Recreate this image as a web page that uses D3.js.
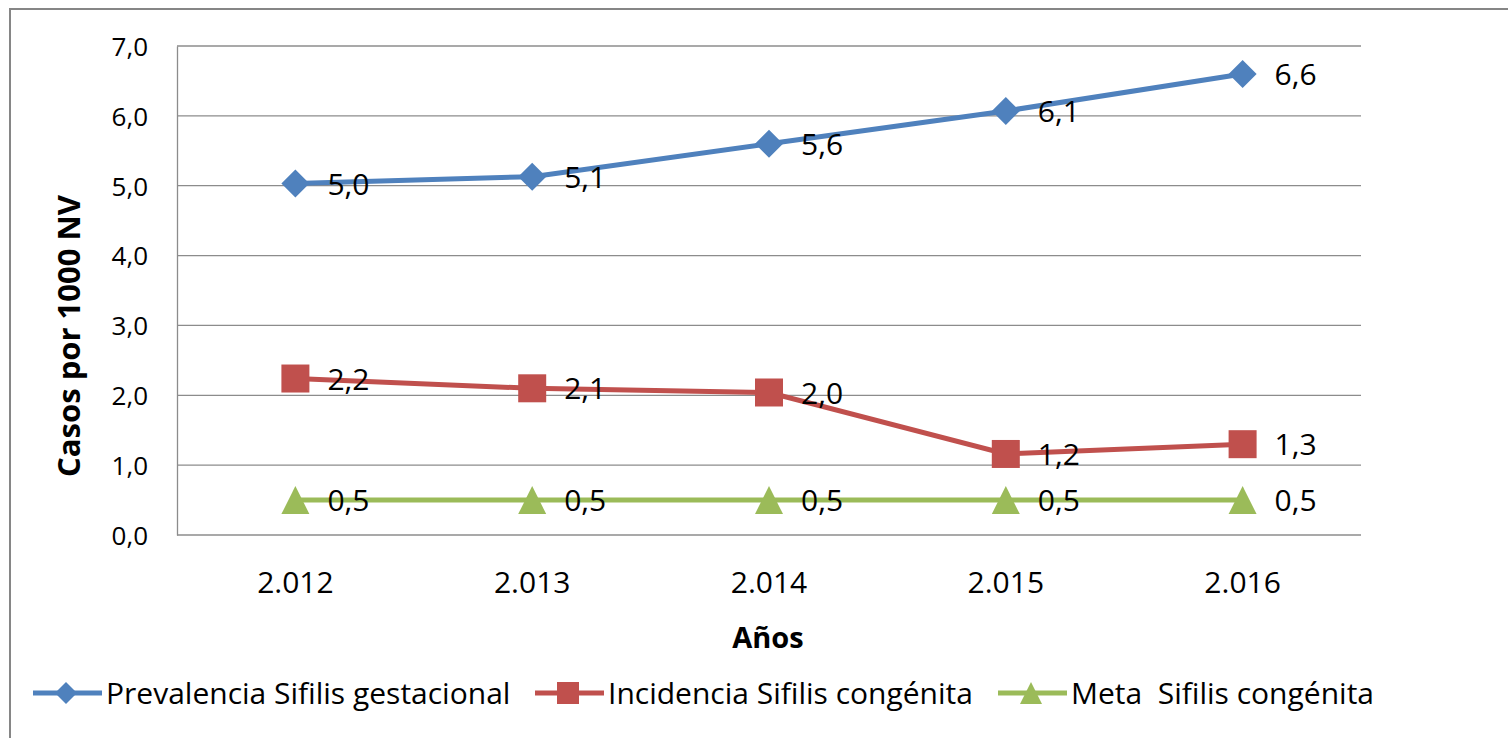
<!DOCTYPE html>
<html>
<head>
<meta charset="utf-8">
<script src="https://cdn.jsdelivr.net/npm/d3@7"></script>
<style>
  body { margin: 0; background: #fff; }
  text { font-family: "Open Sans", Lato, sans-serif; fill: #000; }
</style>
</head>
<body>
<div id="chart"></div>
<script>
var years = ["2.012", "2.013", "2.014", "2.015", "2.016"];
var prevalencia = [5.03, 5.13, 5.6, 6.07, 6.6];
var incidencia = [2.24, 2.1, 2.04, 1.16, 1.3];
var meta = [0.5, 0.5, 0.5, 0.5, 0.5];
var yTicks = [0, 1, 2, 3, 4, 5, 6, 7];

// marker shapes drawn as paths for a given half-size
var shapes = {
  diamond: function(r) { return "M0," + (-r) + "L" + r + ",0L0," + r + "L" + (-r) + ",0Z"; },
  square: function(r) { return "M" + (-r) + "," + (-r) + "h" + (2 * r) + "v" + (2 * r) + "h" + (-2 * r) + "Z"; },
  triangle: function(r) { return "M0," + (-r) + "L" + r + "," + r + "L" + (-r) + "," + r + "Z"; }
};

var series = [
  {name: "Prevalencia Sifilis gestacional", values: prevalencia, color: "#4F81BD", shape: "diamond"},
  {name: "Incidencia Sifilis congénita", values: incidencia, color: "#C0504D", shape: "square"},
  {name: "Meta  Sifilis congénita", values: meta, color: "#9BBB59", shape: "triangle"}
];

var width = 1508,
    height = 738,
    margin = {top: 46, right: 147, bottom: 203, left: 177};

var fmt = function(v) { return d3.format(".1f")(v).replace(".", ","); };

var svg = d3.select("#chart").append("svg")
    .attr("width", width)
    .attr("height", height);

// outer chart border
svg.append("rect")
    .attr("x", 10).attr("y", 9)
    .attr("width", width).attr("height", height)
    .attr("fill", "none")
    .attr("stroke", "#868686")
    .attr("stroke-width", 2);

var x = d3.scaleBand()
    .domain(years)
    .range([margin.left, width - margin.right]);

var y = d3.scaleLinear()
    .domain([0, 7])
    .range([height - margin.bottom, margin.top]);

// gridlines
svg.append("g")
    .selectAll("line")
    .data(yTicks)
  .enter().append("line")
    .attr("x1", margin.left)
    .attr("x2", width - margin.right)
    .attr("y1", function(d) { return y(d); })
    .attr("y2", function(d) { return y(d); })
    .attr("stroke", "#8c8c8c")
    .attr("stroke-width", 1.3);

// y axis
var yAxis = svg.append("g")
    .attr("transform", "translate(" + margin.left + ",0)")
    .call(d3.axisLeft(y).tickValues(yTicks).tickFormat(fmt).tickSize(0).tickPadding(29));
yAxis.select(".domain").attr("stroke", "#8c8c8c").attr("stroke-width", 1.3);
yAxis.selectAll("text").style("font-size", "26px").attr("dy", "0.36em");

// x axis
var xAxis = svg.append("g")
    .attr("transform", "translate(0," + (height - margin.bottom) + ")")
    .call(d3.axisBottom(x).tickSize(0));
xAxis.select(".domain").remove();
xAxis.selectAll("text").style("font-size", "30px").attr("y", 58).attr("dy", 0);

// axis titles
svg.append("text")
    .attr("transform", "translate(80,336) rotate(-90)")
    .attr("text-anchor", "middle")
    .style("font-size", "31px")
    .style("font-weight", "bold")
    .text("Casos por 1000 NV");

svg.append("text")
    .attr("x", (margin.left + width - margin.right) / 2 - 1)
    .attr("y", 648)
    .attr("text-anchor", "middle")
    .style("font-size", "29px")
    .style("font-weight", "bold")
    .text("Años");

var cx = function(i) { return x(years[i]) + x.bandwidth() / 2; };

var line = d3.line()
    .x(function(d, i) { return cx(i); })
    .y(function(d) { return y(d); });

var g = svg.selectAll(".series")
    .data(series)
  .enter().append("g")
    .attr("class", "series");

g.append("path")
    .attr("d", function(s) { return line(s.values); })
    .attr("fill", "none")
    .attr("stroke", function(s) { return s.color; })
    .attr("stroke-width", 5);

g.each(function(s) {
  var sel = d3.select(this);
  sel.selectAll(".pt")
      .data(s.values)
    .enter().append("path")
      .attr("transform", function(d, i) { return "translate(" + cx(i) + "," + y(d) + ")"; })
      .attr("d", shapes[s.shape](14))
      .attr("fill", s.color);
  sel.selectAll(".lbl")
      .data(s.values)
    .enter().append("text")
      .attr("x", function(d, i) { return cx(i) + 32; })
      .attr("y", function(d) { return y(d); })
      .attr("dy", "0.37em")
      .style("font-size", "30px")
      .text(fmt);
});

// legend
var legendX = [33, 535, 998];
var lg = svg.selectAll(".legend")
    .data(series)
  .enter().append("g")
    .attr("class", "legend")
    .attr("transform", function(s, i) { return "translate(" + legendX[i] + ",693)"; });

lg.append("line")
    .attr("x1", 0).attr("x2", 69)
    .attr("stroke", function(s) { return s.color; })
    .attr("stroke-width", 5);

lg.append("path")
    .attr("transform", "translate(33,0)")
    .attr("d", function(s) { return shapes[s.shape](11); })
    .attr("fill", function(s) { return s.color; });

lg.append("text")
    .attr("x", 73)
    .attr("dy", "0.38em")
    .style("font-size", "30px")
    .style("white-space", "pre")
    .text(function(s) { return s.name; });
</script>
</body>
</html>
